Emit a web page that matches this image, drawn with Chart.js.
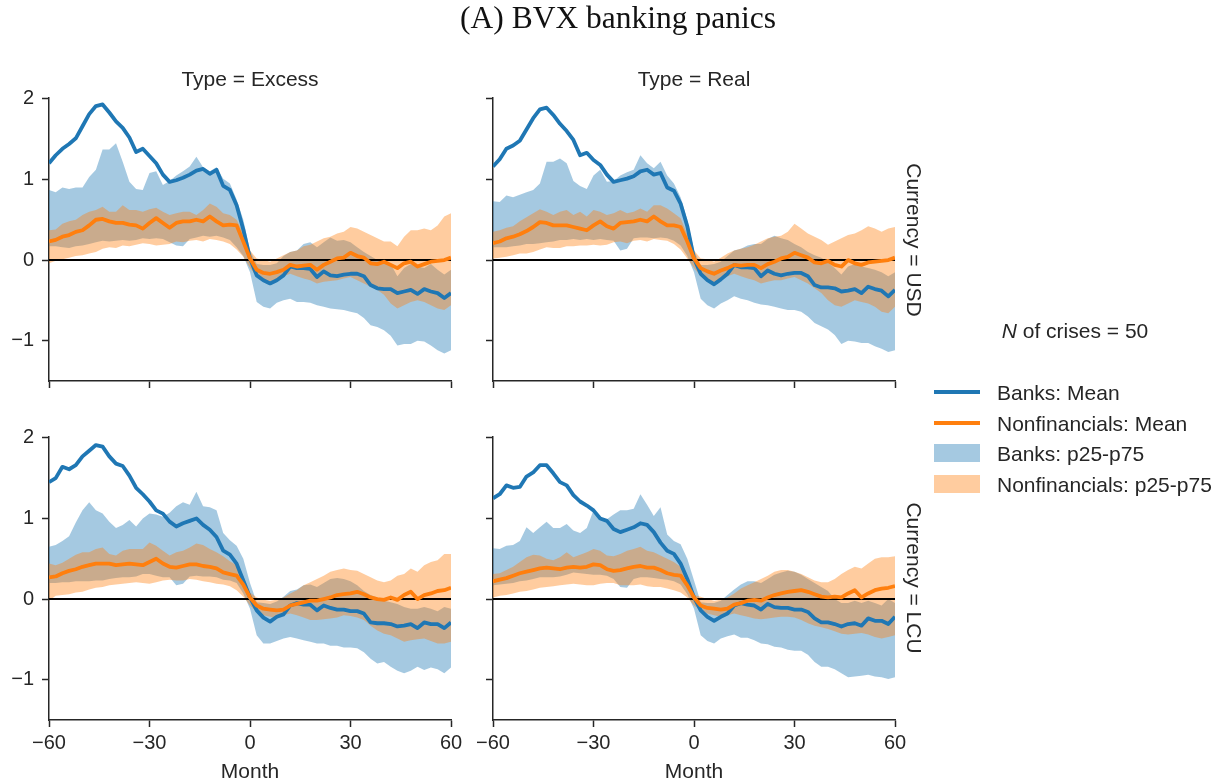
<!DOCTYPE html>
<html><head><meta charset="utf-8">
<script src="https://cdn.jsdelivr.net/npm/chart.js@4.4.0/dist/chart.umd.min.js"></script>
<style>
html,body{margin:0;padding:0;background:#fff;width:1226px;height:784px;overflow:hidden;}
#stage{position:relative;width:1226px;height:784px;overflow:hidden;}
canvas{position:absolute;}
svg{position:absolute;left:0;top:0;}
</style></head>
<body><div id="stage">
<canvas id="pUsdExcess" width="471" height="325" style="left:0px;top:78px;width:471px;height:325px"></canvas>
<canvas id="pUsdReal" width="471" height="325" style="left:444px;top:78px;width:471px;height:325px"></canvas>
<canvas id="pLcuExcess" width="471" height="368" style="left:0px;top:417px;width:471px;height:368px"></canvas>
<canvas id="pLcuReal" width="471" height="368" style="left:444px;top:417px;width:471px;height:368px"></canvas>
<svg id="ann" width="1226" height="784"></svg>
</div>
<script>
const months = [-60,-58,-56,-54,-52,-50,-48,-46,-44,-42,-40,-38,-36,-34,-32,-30,-28,-26,-24,-22,-20,-18,-16,-14,-12,-10,-8,-6,-4,-2,0,2,4,6,8,10,12,14,16,18,20,22,24,26,28,30,32,34,36,38,40,42,44,46,48,50,52,54,56,58,60];
const xTickValues = [-60,-30,0,30,60];
const yTickValues = [-1,0,1,2];
const chartTitle = '(A) BVX banking panics';
const colTitles = ['Type = Excess','Type = Real'];
const rowTitles = ['Currency = USD','Currency = LCU'];
const xAxisTitle = 'Month';
const legendTitle = 'of crises = 50';
const legendLabels = ['Banks: Mean','Nonfinancials: Mean','Banks: p25-p75','Nonfinancials: p25-p75'];

// USD, Excess
const usdExcessBanksMean = [1.2,1.3,1.38,1.44,1.51,1.66,1.81,1.91,1.93,1.83,1.72,1.64,1.52,1.34,1.38,1.29,1.2,1.06,0.97,0.99,1.02,1.06,1.11,1.13,1.07,1.12,0.92,0.87,0.68,0.38,0.02,-0.19,-0.25,-0.29,-0.25,-0.19,-0.08,-0.1,-0.1,-0.11,-0.21,-0.14,-0.19,-0.2,-0.18,-0.17,-0.17,-0.2,-0.31,-0.35,-0.36,-0.36,-0.41,-0.39,-0.37,-0.42,-0.36,-0.39,-0.41,-0.47,-0.41];
const usdExcessNonfinMean = [0.23,0.25,0.29,0.31,0.35,0.37,0.43,0.5,0.51,0.48,0.46,0.46,0.44,0.43,0.39,0.46,0.52,0.46,0.4,0.46,0.48,0.48,0.5,0.48,0.54,0.48,0.43,0.44,0.43,0.23,0.02,-0.12,-0.16,-0.17,-0.15,-0.12,-0.06,-0.08,-0.07,-0.06,-0.12,-0.06,-0.02,0.02,0.03,0.09,0.05,0.03,-0.04,-0.05,-0.02,-0.06,-0.1,-0.04,-0.02,-0.08,-0.05,-0.02,-0.01,0,0.03];
const usdExcessBanksP75 = [0.87,0.84,0.9,0.88,0.9,0.9,1.03,1.12,1.37,1.37,1.45,1.22,0.97,0.88,0.87,1.08,1.1,0.93,0.98,1.05,1.1,1.16,1.28,1.15,1.1,1.15,1.01,0.95,0.75,0.5,0.12,-0.05,-0.06,-0.06,-0.04,0.05,0.1,0.12,0.2,0.22,0.16,0.22,0.28,0.24,0.25,0.22,0.16,0.1,0.05,0,-0.02,-0.05,-0.2,-0.1,-0.05,-0.08,-0.1,-0.05,-0.12,-0.18,-0.12];
const usdExcessBanksP25 = [0.17,0.17,0.16,0.15,0.17,0.18,0.2,0.22,0.24,0.23,0.24,0.25,0.24,0.25,0.27,0.26,0.27,0.26,0.22,0.18,0.17,0.26,0.28,0.3,0.29,0.3,0.28,0.25,0.16,0.05,-0.15,-0.52,-0.58,-0.6,-0.53,-0.5,-0.48,-0.52,-0.52,-0.53,-0.56,-0.58,-0.6,-0.61,-0.62,-0.64,-0.66,-0.72,-0.81,-0.83,-0.87,-0.94,-1.06,-1.04,-1.04,-1.0,-1.01,-1.06,-1.12,-1.16,-1.12];
const usdExcessNonfinP75 = [0.37,0.38,0.45,0.48,0.5,0.56,0.6,0.62,0.66,0.6,0.6,0.68,0.62,0.62,0.6,0.63,0.65,0.6,0.56,0.58,0.6,0.6,0.56,0.62,0.7,0.66,0.58,0.56,0.5,0.34,0.12,0.02,0,-0.02,0.02,0.06,0.1,0.12,0.17,0.19,0.23,0.27,0.29,0.33,0.35,0.41,0.39,0.35,0.31,0.27,0.23,0.23,0.17,0.29,0.37,0.37,0.39,0.37,0.43,0.54,0.58];
const usdExcessNonfinP25 = [-0.04,-0.01,0.01,0.03,0.05,0.06,0.08,0.1,0.14,0.16,0.15,0.18,0.17,0.19,0.21,0.2,0.18,0.19,0.2,0.23,0.22,0.24,0.25,0.23,0.26,0.25,0.23,0.2,0.13,0.04,-0.1,-0.2,-0.25,-0.27,-0.25,-0.2,-0.17,-0.2,-0.23,-0.25,-0.29,-0.27,-0.26,-0.25,-0.23,-0.21,-0.25,-0.29,-0.33,-0.37,-0.43,-0.54,-0.6,-0.56,-0.52,-0.5,-0.52,-0.56,-0.6,-0.62,-0.56];

// USD, Real
const usdRealBanksMean = [1.16,1.25,1.38,1.42,1.48,1.62,1.76,1.87,1.89,1.8,1.69,1.6,1.49,1.3,1.33,1.24,1.18,1.06,0.97,0.99,1.01,1.04,1.1,1.12,1.06,1.08,0.9,0.86,0.7,0.42,0.02,-0.17,-0.25,-0.3,-0.24,-0.17,-0.06,-0.09,-0.09,-0.1,-0.2,-0.13,-0.17,-0.19,-0.17,-0.16,-0.16,-0.2,-0.31,-0.34,-0.34,-0.35,-0.39,-0.38,-0.36,-0.41,-0.33,-0.36,-0.38,-0.45,-0.37];
const usdRealNonfinMean = [0.21,0.23,0.27,0.29,0.32,0.36,0.41,0.47,0.46,0.43,0.43,0.43,0.41,0.39,0.37,0.43,0.48,0.42,0.39,0.46,0.47,0.48,0.5,0.48,0.54,0.48,0.43,0.43,0.41,0.23,0.02,-0.1,-0.14,-0.17,-0.13,-0.1,-0.06,-0.07,-0.06,-0.06,-0.1,-0.05,-0.02,0.02,0.04,0.09,0.06,0.03,-0.03,-0.04,-0.01,-0.06,-0.08,0,-0.04,-0.06,-0.03,-0.02,-0.01,0,0.03];
const usdRealBanksP75 = [0.73,0.72,0.8,0.78,0.81,0.84,0.87,0.95,1.22,1.22,1.26,1.2,0.98,0.92,0.88,1.05,1.12,0.97,0.98,1.05,1.09,1.12,1.3,1.2,1.14,1.22,1.05,0.95,0.78,0.5,0.12,-0.06,-0.06,-0.05,-0.02,0.05,0.12,0.14,0.18,0.2,0.2,0.26,0.3,0.27,0.25,0.2,0.16,0.1,0.06,0.03,-0.03,-0.1,-0.18,-0.08,-0.05,-0.08,-0.1,-0.12,-0.15,-0.2,-0.15];
const usdRealBanksP25 = [0.16,0.16,0.16,0.17,0.18,0.2,0.2,0.21,0.22,0.23,0.25,0.25,0.26,0.25,0.26,0.25,0.26,0.25,0.24,0.12,0.14,0.27,0.28,0.28,0.27,0.28,0.27,0.24,0.18,0.05,-0.15,-0.48,-0.56,-0.6,-0.54,-0.5,-0.45,-0.48,-0.5,-0.53,-0.55,-0.56,-0.58,-0.6,-0.62,-0.62,-0.64,-0.7,-0.78,-0.82,-0.86,-0.93,-1.04,-1.0,-1.01,-1.03,-1.03,-1.07,-1.1,-1.14,-1.12];
const usdRealNonfinP75 = [0.35,0.37,0.4,0.42,0.48,0.53,0.58,0.63,0.6,0.56,0.6,0.62,0.56,0.6,0.54,0.62,0.6,0.56,0.58,0.62,0.58,0.6,0.64,0.6,0.68,0.68,0.64,0.58,0.52,0.32,0.12,0.02,0.01,-0.02,0.03,0.08,0.12,0.14,0.16,0.19,0.23,0.27,0.29,0.3,0.35,0.45,0.39,0.33,0.29,0.25,0.19,0.23,0.27,0.31,0.33,0.37,0.42,0.39,0.35,0.39,0.41];
const usdRealNonfinP25 = [0.02,0.03,0.04,0.06,0.08,0.08,0.1,0.13,0.16,0.15,0.15,0.17,0.17,0.18,0.18,0.19,0.18,0.19,0.22,0.23,0.21,0.24,0.25,0.23,0.26,0.25,0.24,0.2,0.13,0.02,-0.1,-0.2,-0.25,-0.28,-0.25,-0.2,-0.17,-0.2,-0.23,-0.25,-0.29,-0.27,-0.25,-0.25,-0.23,-0.21,-0.25,-0.29,-0.35,-0.41,-0.5,-0.56,-0.58,-0.54,-0.5,-0.52,-0.54,-0.58,-0.64,-0.66,-0.58];

// LCU, Excess
const lcuExcessBanksMean = [1.45,1.5,1.64,1.61,1.66,1.77,1.84,1.91,1.89,1.77,1.68,1.65,1.53,1.38,1.3,1.21,1.1,1.06,0.96,0.9,0.94,0.97,1.0,0.92,0.86,0.77,0.6,0.55,0.44,0.23,0.02,-0.14,-0.23,-0.28,-0.22,-0.19,-0.08,-0.05,-0.07,-0.07,-0.14,-0.08,-0.11,-0.13,-0.13,-0.15,-0.15,-0.18,-0.29,-0.3,-0.3,-0.31,-0.34,-0.33,-0.31,-0.36,-0.29,-0.31,-0.31,-0.36,-0.29];
const lcuExcessNonfinMean = [0.27,0.28,0.32,0.35,0.37,0.4,0.42,0.44,0.44,0.44,0.42,0.43,0.44,0.43,0.42,0.46,0.5,0.44,0.4,0.39,0.41,0.43,0.43,0.41,0.4,0.38,0.33,0.31,0.29,0.18,0.02,-0.08,-0.12,-0.13,-0.14,-0.13,-0.08,-0.06,-0.04,-0.02,-0.02,0,0.02,0.05,0.06,0.07,0.09,0.06,0.02,0,-0.01,0.02,-0.01,0.05,0.09,0,0.05,0.07,0.1,0.11,0.14];
const lcuExcessBanksP75 = [0.65,0.67,0.72,0.78,0.95,1.1,1.2,1.1,1.06,0.96,0.88,0.92,0.98,0.9,1.0,1.06,1.05,1.02,1.07,1.15,1.2,1.17,1.33,1.15,1.14,1.1,0.82,0.73,0.66,0.5,0.2,-0.04,-0.05,-0.06,-0.03,0.03,0.1,0.12,0.17,0.18,0.15,0.2,0.25,0.26,0.25,0.22,0.17,0.1,0.05,0.02,-0.02,-0.04,-0.06,-0.1,-0.12,-0.12,-0.1,-0.12,-0.15,-0.1,-0.12];
const lcuExcessBanksP25 = [0.2,0.2,0.21,0.21,0.22,0.22,0.22,0.23,0.23,0.25,0.26,0.27,0.27,0.28,0.31,0.31,0.29,0.27,0.27,0.17,0.19,0.28,0.29,0.28,0.28,0.27,0.24,0.23,0.2,0.07,-0.12,-0.45,-0.55,-0.55,-0.52,-0.49,-0.47,-0.49,-0.51,-0.53,-0.55,-0.55,-0.58,-0.58,-0.6,-0.6,-0.61,-0.66,-0.74,-0.8,-0.78,-0.84,-0.89,-0.92,-0.89,-0.84,-0.88,-0.85,-0.87,-0.92,-0.85];
const lcuExcessNonfinP75 = [0.44,0.42,0.45,0.5,0.55,0.58,0.58,0.62,0.64,0.56,0.54,0.6,0.62,0.62,0.62,0.7,0.66,0.6,0.54,0.58,0.6,0.64,0.69,0.67,0.62,0.58,0.53,0.47,0.42,0.28,0.08,0.02,-0.01,-0.02,-0.01,0.02,0.07,0.11,0.17,0.21,0.25,0.29,0.34,0.36,0.38,0.36,0.35,0.31,0.27,0.23,0.21,0.23,0.29,0.31,0.38,0.34,0.42,0.46,0.48,0.56,0.56];
const lcuExcessNonfinP25 = [-0.02,0.04,0.05,0.06,0.08,0.09,0.12,0.14,0.15,0.17,0.18,0.19,0.2,0.21,0.2,0.19,0.21,0.23,0.24,0.23,0.23,0.25,0.24,0.22,0.21,0.19,0.18,0.16,0.11,0.03,-0.08,-0.16,-0.2,-0.22,-0.24,-0.2,-0.18,-0.2,-0.23,-0.26,-0.26,-0.25,-0.24,-0.23,-0.2,-0.21,-0.23,-0.26,-0.33,-0.39,-0.43,-0.45,-0.49,-0.53,-0.51,-0.5,-0.49,-0.52,-0.55,-0.55,-0.53];

// LCU, Real
const lcuRealBanksMean = [1.25,1.3,1.41,1.38,1.39,1.52,1.57,1.66,1.66,1.56,1.45,1.41,1.29,1.21,1.16,1.1,1.0,0.97,0.87,0.83,0.86,0.89,0.94,0.92,0.83,0.7,0.6,0.56,0.44,0.25,0.02,-0.14,-0.22,-0.27,-0.22,-0.18,-0.08,-0.05,-0.07,-0.08,-0.13,-0.06,-0.1,-0.11,-0.11,-0.13,-0.13,-0.16,-0.24,-0.29,-0.29,-0.31,-0.34,-0.31,-0.3,-0.33,-0.24,-0.27,-0.27,-0.31,-0.22];
const lcuRealNonfinMean = [0.22,0.24,0.26,0.29,0.32,0.34,0.36,0.38,0.39,0.38,0.37,0.39,0.4,0.39,0.4,0.43,0.42,0.37,0.35,0.36,0.38,0.4,0.41,0.39,0.39,0.36,0.32,0.3,0.29,0.17,0.02,-0.08,-0.11,-0.12,-0.13,-0.12,-0.07,-0.05,-0.02,-0.01,-0.02,0.02,0.05,0.07,0.09,0.1,0.11,0.09,0.06,0.03,0.02,0.03,0.02,0.07,0.11,0.02,0.07,0.11,0.13,0.14,0.16];
const lcuRealBanksP75 = [0.63,0.62,0.66,0.67,0.72,0.89,0.82,0.89,0.96,0.88,0.88,0.93,0.85,0.82,0.88,1.1,1.0,0.99,1.05,1.1,1.1,1.12,1.3,1.17,1.03,1.14,0.8,0.72,0.68,0.5,0.23,-0.04,-0.05,-0.05,-0.02,0.05,0.12,0.18,0.22,0.22,0.2,0.25,0.3,0.33,0.35,0.34,0.3,0.25,0.2,0.15,0.1,0,-0.05,-0.05,-0.02,-0.05,-0.02,-0.05,-0.08,0,-0.05];
const lcuRealBanksP25 = [0.17,0.18,0.19,0.2,0.22,0.23,0.25,0.27,0.27,0.27,0.28,0.3,0.33,0.32,0.31,0.3,0.3,0.29,0.25,0.15,0.14,0.25,0.27,0.27,0.26,0.25,0.24,0.22,0.18,0.06,-0.12,-0.45,-0.52,-0.55,-0.49,-0.46,-0.44,-0.48,-0.48,-0.51,-0.55,-0.56,-0.59,-0.6,-0.63,-0.64,-0.64,-0.69,-0.78,-0.84,-0.84,-0.87,-0.92,-0.97,-0.96,-0.95,-0.94,-0.96,-0.97,-0.99,-0.97];
const lcuRealNonfinP75 = [0.31,0.32,0.36,0.4,0.46,0.52,0.55,0.54,0.5,0.48,0.52,0.58,0.52,0.55,0.58,0.62,0.6,0.54,0.53,0.56,0.6,0.62,0.65,0.6,0.58,0.54,0.5,0.46,0.4,0.22,0.05,0.03,0,-0.02,-0.01,0.02,0.07,0.13,0.17,0.21,0.25,0.29,0.34,0.36,0.36,0.34,0.31,0.27,0.23,0.21,0.21,0.25,0.31,0.36,0.4,0.38,0.44,0.5,0.52,0.52,0.53];
const lcuRealNonfinP25 = [0.02,0.04,0.05,0.07,0.09,0.1,0.12,0.14,0.15,0.16,0.17,0.18,0.19,0.18,0.17,0.17,0.19,0.2,0.2,0.17,0.17,0.17,0.18,0.16,0.15,0.15,0.13,0.11,0.08,0.02,-0.08,-0.14,-0.18,-0.2,-0.22,-0.2,-0.18,-0.2,-0.22,-0.24,-0.25,-0.24,-0.23,-0.22,-0.22,-0.23,-0.26,-0.3,-0.33,-0.35,-0.37,-0.4,-0.43,-0.44,-0.43,-0.42,-0.44,-0.47,-0.49,-0.47,-0.45];

const BLUE = '#1f77b4', ORANGE = '#ff7f0e';
const BLUE_BAND = 'rgba(31,119,180,0.4)', ORANGE_BAND = 'rgba(255,127,14,0.4)';
const AX = '#262626', TXT = '#262626', FONT = "'Liberation Sans', Arial, sans-serif";
const NONE = 'rgba(0,0,0,0)';

function pts(vals){ return vals.map((v,i)=>({x:months[i], y:v})); }
function fmt(v){ return v < 0 ? '\u2212' + Math.abs(v) : String(v); }

function makePanel(id, s, showX, showY){
  const zero = [{x:months[0], y:0},{x:months[months.length-1], y:0}];
  return new Chart(document.getElementById(id), {
    type:'line',
    data:{datasets:[
      {label:legendLabels[0], data:pts(s.bm), borderColor:BLUE, borderWidth:3.8, fill:false, order:2},
      {label:legendLabels[1], data:pts(s.nm), borderColor:ORANGE, borderWidth:3.8, fill:false, order:1},
      {label:'zero', data:zero, borderColor:'#000', borderWidth:2, fill:false, order:3},
      {label:legendLabels[2], data:pts(s.b75), borderColor:NONE, borderWidth:0, backgroundColor:BLUE_BAND, fill:'+1', order:6},
      {label:'b25', data:pts(s.b25), borderColor:NONE, borderWidth:0, fill:false, order:7},
      {label:legendLabels[3], data:pts(s.n75), borderColor:NONE, borderWidth:0, backgroundColor:ORANGE_BAND, fill:'+1', order:4},
      {label:'n25', data:pts(s.n25), borderColor:NONE, borderWidth:0, fill:false, order:5}
    ]},
    options:{
      responsive:false, animation:false, events:[],
      layout:{padding:{top:20,right:20,left:0,bottom:0}},
      elements:{point:{radius:0,hoverRadius:0}, line:{tension:0, borderCapStyle:'butt', borderJoinStyle:'round'}},
      plugins:{legend:{display:false}, tooltip:{enabled:false}, title:{display:false}},
      scales:{
        x:{type:'linear', min:-60, max:60,
          afterBuildTicks:(sc)=>{ sc.ticks = xTickValues.map(v=>({value:v})); },
          afterFit:(sc)=>{ sc.height = showX ? 65 : 22; },
          ticks:{autoSkip:false, maxRotation:0, padding:4, color:TXT, font:{family:FONT,size:20}, callback:(v)=> showX ? fmt(v) : ''},
          grid:{display:true, drawOnChartArea:false, drawTicks:true, tickLength:7, tickWidth:1.5, tickColor:AX, color:AX},
          border:{display:true, color:AX, width:1.5},
          title:{display:showX, text:xAxisTitle, color:TXT, font:{family:FONT,size:21}, padding:0}
        },
        y:{type:'linear', min:-1.5, max:2.01,
          afterBuildTicks:(sc)=>{ sc.ticks = yTickValues.map(v=>({value:v})); },
          afterFit:(sc)=>{ sc.width = 49; },
          ticks:{autoSkip:false, padding:8, color:TXT, font:{family:FONT,size:20}, callback:(v)=> showY ? fmt(v) : ''},
          grid:{display:true, drawOnChartArea:false, drawTicks:true, tickLength:7, tickWidth:1.5, tickColor:AX, color:AX},
          border:{display:true, color:AX, width:1.5}
        }
      }
    }
  });
}

makePanel('pUsdExcess', {bm:usdExcessBanksMean, nm:usdExcessNonfinMean, b75:usdExcessBanksP75, b25:usdExcessBanksP25, n75:usdExcessNonfinP75, n25:usdExcessNonfinP25}, false, true);
makePanel('pUsdReal', {bm:usdRealBanksMean, nm:usdRealNonfinMean, b75:usdRealBanksP75, b25:usdRealBanksP25, n75:usdRealNonfinP75, n25:usdRealNonfinP25}, false, false);
makePanel('pLcuExcess', {bm:lcuExcessBanksMean, nm:lcuExcessNonfinMean, b75:lcuExcessBanksP75, b25:lcuExcessBanksP25, n75:lcuExcessNonfinP75, n25:lcuExcessNonfinP25}, true, true);
makePanel('pLcuReal', {bm:lcuRealBanksMean, nm:lcuRealNonfinMean, b75:lcuRealBanksP75, b25:lcuRealBanksP25, n75:lcuRealNonfinP75, n25:lcuRealNonfinP25}, true, false);

// annotations (titles, facet labels, legend)
const NS = 'http://www.w3.org/2000/svg';
const svg = document.getElementById('ann');
function el(tag, attrs, text){
  const e = document.createElementNS(NS, tag);
  for (const k in attrs) e.setAttribute(k, attrs[k]);
  if (text !== undefined) e.textContent = text;
  svg.appendChild(e); return e;
}
el('text', {x:618, y:28, 'text-anchor':'middle', 'font-family':"'Liberation Serif', 'DejaVu Serif', serif", 'font-size':31.5, fill:'#111'}, chartTitle);
el('text', {x:250, y:86, 'text-anchor':'middle', 'font-family':FONT, 'font-size':21, fill:TXT}, colTitles[0]);
el('text', {x:694, y:86, 'text-anchor':'middle', 'font-family':FONT, 'font-size':21, fill:TXT}, colTitles[1]);
el('text', {transform:'translate(914,240) rotate(90)', 'text-anchor':'middle', 'dominant-baseline':'central', 'font-family':FONT, 'font-size':21, fill:TXT}, rowTitles[0]);
el('text', {transform:'translate(914,578) rotate(90)', 'text-anchor':'middle', 'dominant-baseline':'central', 'font-family':FONT, 'font-size':21, fill:TXT}, rowTitles[1]);

const lt = el('text', {x:1075, y:337.5, 'text-anchor':'middle', 'font-family':FONT, 'font-size':21, fill:TXT});
const ts1 = document.createElementNS(NS,'tspan'); ts1.setAttribute('font-style','italic'); ts1.textContent = 'N'; lt.appendChild(ts1);
const ts2 = document.createElementNS(NS,'tspan'); ts2.textContent = ' ' + legendTitle; lt.appendChild(ts2);

const legY = [392, 423, 453, 484];
el('line', {x1:934, x2:980, y1:legY[0], y2:legY[0], stroke:BLUE, 'stroke-width':3.8});
el('line', {x1:934, x2:980, y1:legY[1], y2:legY[1], stroke:ORANGE, 'stroke-width':3.8});
el('rect', {x:934, y:legY[2]-9, width:46, height:18, fill:BLUE_BAND});
el('rect', {x:934, y:legY[3]-9, width:46, height:18, fill:ORANGE_BAND});
legendLabels.forEach((t,i)=>{
  el('text', {x:997, y:legY[i]+7.5, 'font-family':FONT, 'font-size':21, fill:TXT}, t);
});
</script>
</body></html>
